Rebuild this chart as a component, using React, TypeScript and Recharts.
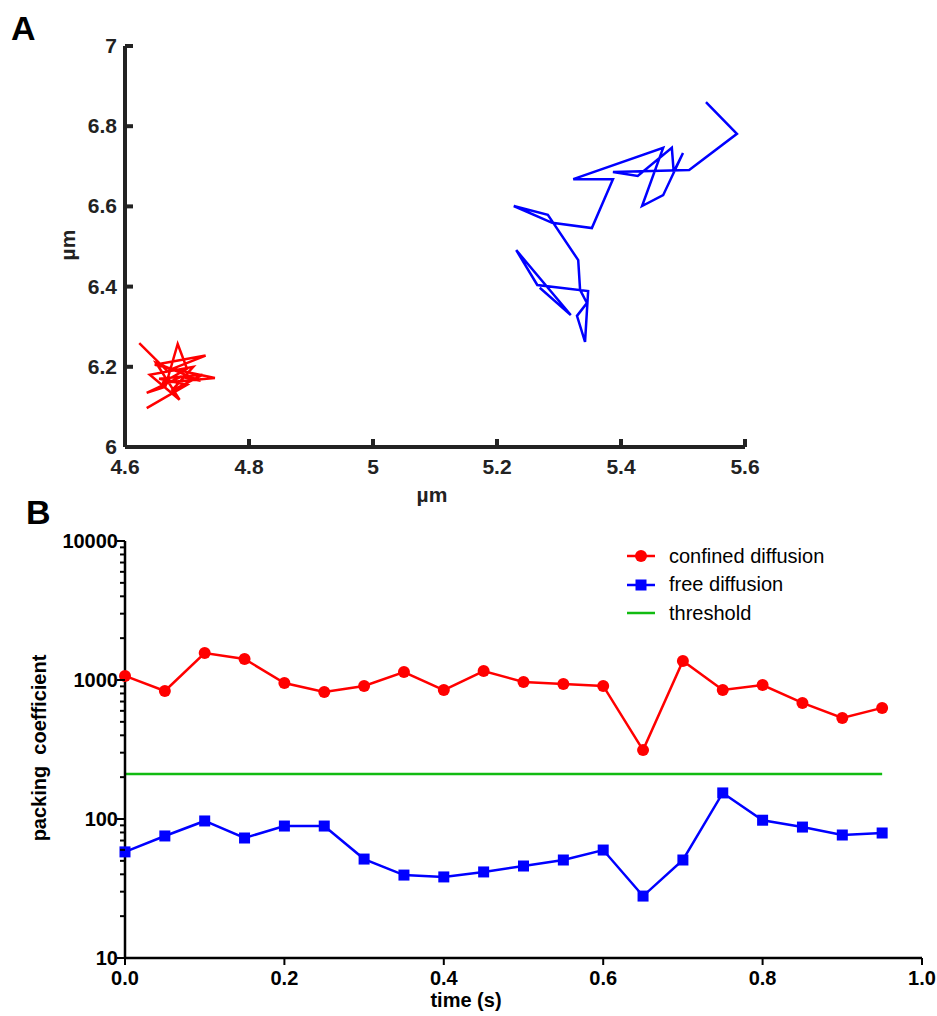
import { LineChart, Line, XAxis, YAxis } from 'recharts'

// panel A: single particle trajectories (µm)
const freeTrack = [
  { x: 5.537, y: 6.86 }, { x: 5.587, y: 6.781 }, { x: 5.51, y: 6.691 }, { x: 5.387, y: 6.686 },
  { x: 5.427, y: 6.676 }, { x: 5.482, y: 6.746 }, { x: 5.485, y: 6.686 }, { x: 5.5, y: 6.733 },
  { x: 5.468, y: 6.628 }, { x: 5.434, y: 6.601 }, { x: 5.468, y: 6.746 }, { x: 5.323, y: 6.668 },
  { x: 5.387, y: 6.668 }, { x: 5.353, y: 6.546 }, { x: 5.289, y: 6.559 }, { x: 5.227, y: 6.601 },
  { x: 5.282, y: 6.579 }, { x: 5.331, y: 6.466 }, { x: 5.334, y: 6.392 }, { x: 5.345, y: 6.359 },
  { x: 5.329, y: 6.327 }, { x: 5.342, y: 6.262 }, { x: 5.347, y: 6.389 }, { x: 5.265, y: 6.404 },
  { x: 5.231, y: 6.491 }, { x: 5.319, y: 6.329 }, { x: 5.269, y: 6.397 },
]
const confinedTrack = [
  { x: 4.623, y: 6.259 }, { x: 4.668, y: 6.19 }, { x: 4.73, y: 6.228 }, { x: 4.648, y: 6.205 },
  { x: 4.705, y: 6.185 }, { x: 4.745, y: 6.172 }, { x: 4.66, y: 6.16 }, { x: 4.7, y: 6.195 },
  { x: 4.685, y: 6.257 }, { x: 4.665, y: 6.15 }, { x: 4.635, y: 6.135 }, { x: 4.69, y: 6.175 },
  { x: 4.722, y: 6.165 }, { x: 4.65, y: 6.21 }, { x: 4.688, y: 6.118 }, { x: 4.64, y: 6.18 },
  { x: 4.71, y: 6.2 }, { x: 4.675, y: 6.14 }, { x: 4.725, y: 6.18 }, { x: 4.655, y: 6.17 },
  { x: 4.7, y: 6.155 }, { x: 4.635, y: 6.097 },
]
const trackXTicks = [4.6, 4.8, 5, 5.2, 5.4, 5.6]
const trackYTicks = [6, 6.2, 6.4, 6.6, 6.8, 7]

// panel B: packing coefficient over time
const times = [0, 0.05, 0.1, 0.15, 0.2, 0.25, 0.3, 0.35, 0.4, 0.45, 0.5, 0.55, 0.6, 0.65, 0.7, 0.75, 0.8, 0.85, 0.9, 0.95]
const confined = [1070, 834, 1564, 1416, 951, 820, 906, 1141, 847, 1160, 967, 936, 906, 313, 1370, 847, 920, 684, 533, 630]
const free = [58, 75.5, 96.8, 73, 89, 89, 51.5, 39.5, 38.3, 41.6, 45.9, 50.7, 59.8, 27.9, 50.7, 154, 98, 87.5, 76.7, 79.3]
const threshold = 211
const timeTicks = [0, 0.2, 0.4, 0.6, 0.8, 1.0]
const majorLog = [10, 100, 1000, 10000]
const logTicks = [
  10, 20, 30, 40, 50, 60, 70, 80, 90,
  100, 200, 300, 400, 500, 600, 700, 800, 900,
  1000, 2000, 3000, 4000, 5000, 6000, 7000, 8000, 9000, 10000,
]

const rows = times.map((t, i) => ({ t, confined: confined[i], free: free[i], threshold }))

const FONT = '"Liberation Sans", Arial, sans-serif'
const DARK = '#222'

const fmtNum = (v: number) => String(Number(v.toFixed(1)))

function TrackXTick({ x, y, payload }: any) {
  return (
    <g>
      <line x1={x} x2={x} y1={y} y2={y - 8} stroke={DARK} strokeWidth={4} />
      <text x={x} y={y + 27} textAnchor="middle" fontSize={21} fontWeight="bold" fontFamily={FONT} fill={DARK}>
        {fmtNum(payload.value)}
      </text>
    </g>
  )
}

function TrackYTick({ x, y, payload }: any) {
  return (
    <g>
      <line x1={x} x2={x + 8} y1={y} y2={y} stroke={DARK} strokeWidth={4} />
      <text x={x - 8} y={y + 7} textAnchor="end" fontSize={21} fontWeight="bold" fontFamily={FONT} fill={DARK}>
        {fmtNum(payload.value)}
      </text>
    </g>
  )
}

function TimeTick({ x, y, payload }: any) {
  return (
    <g>
      <line x1={x} x2={x} y1={y} y2={y + 7} stroke="#000" strokeWidth={2} />
      <text x={x} y={y + 27} textAnchor="middle" fontSize={20} fontWeight="bold" fontFamily={FONT} fill="#000">
        {payload.value.toFixed(1)}
      </text>
    </g>
  )
}

function LogTick({ x, y, payload }: any) {
  const major = majorLog.includes(payload.value)
  return (
    <g>
      <line x1={x} x2={x - (major ? 8 : 5)} y1={y} y2={y} stroke="#000" strokeWidth={2} />
      {major && (
        <text x={x - 7} y={y + 7} textAnchor="end" fontSize={20} fontWeight="bold" fontFamily={FONT} fill="#000">
          {payload.value}
        </text>
      )}
    </g>
  )
}

const RedDot = (p: any) => <circle key={`r${p.index}`} cx={p.cx} cy={p.cy} r={6} fill="#ff0000" />
const BlueSquare = (p: any) => (
  <rect key={`b${p.index}`} x={p.cx - 5.5} y={p.cy - 5.5} width={11} height={11} fill="#0000ff" />
)

const legendItems = [
  { label: 'confined diffusion', color: '#ff0000', marker: 'circle' },
  { label: 'free diffusion', color: '#0000ff', marker: 'square' },
  { label: 'threshold', color: '#11bb11', marker: 'none' },
]

function LegendBox() {
  return (
    <div style={{ position: 'absolute', left: 627, top: 542, fontFamily: FONT, fontSize: 20, color: '#000' }}>
      {legendItems.map((it) => (
        <div key={it.label} style={{ display: 'flex', alignItems: 'center', height: 28.5, whiteSpace: 'nowrap' }}>
          <svg width={30} height={14} style={{ marginRight: 12 }}>
            <line x1={0} x2={28} y1={7} y2={7} stroke={it.color} strokeWidth={2.5} />
            {it.marker === 'circle' && <circle cx={14} cy={7} r={6} fill={it.color} />}
            {it.marker === 'square' && <rect x={8.5} y={1.5} width={11} height={11} fill={it.color} />}
          </svg>
          <span>{it.label}</span>
        </div>
      ))}
    </div>
  )
}

const abs = (left: number, top: number, extra: any = {}) => ({
  position: 'absolute' as const,
  left,
  top,
  fontFamily: FONT,
  fontWeight: 'bold' as const,
  whiteSpace: 'nowrap' as const,
  ...extra,
})

export default function App() {
  return (
    <div style={{ position: 'absolute', left: 0, top: 0, width: 937, height: 1016, background: '#fff' }}>
      <LineChart width={937} height={510} margin={{ top: 46, right: 192, left: 0, bottom: 0 }} style={{ position: 'absolute', left: 0, top: 0 }}>
        <XAxis
          type="number"
          dataKey="x"
          domain={[4.6, 5.6]}
          ticks={trackXTicks}
          height={63}
          tickSize={0}
          tickMargin={0}
          tickLine={false}
          tick={<TrackXTick />}
          axisLine={{ stroke: DARK, strokeWidth: 4 }}
          allowDuplicatedCategory={false}
        />
        <YAxis
          type="number"
          dataKey="y"
          domain={[6, 7]}
          ticks={trackYTicks}
          width={125}
          tickSize={0}
          tickMargin={0}
          tickLine={false}
          tick={<TrackYTick />}
          axisLine={{ stroke: DARK, strokeWidth: 4 }}
        />
        <Line data={confinedTrack} dataKey="y" stroke="#ff0000" strokeWidth={2.5} dot={false} isAnimationActive={false} />
        <Line data={freeTrack} dataKey="y" stroke="#0000ff" strokeWidth={2.5} dot={false} isAnimationActive={false} />
      </LineChart>

      <LineChart data={rows} width={937} height={506} margin={{ top: 31, right: 15, left: 0, bottom: 0 }} style={{ position: 'absolute', left: 0, top: 510 }}>
        <XAxis
          type="number"
          dataKey="t"
          domain={[0, 1]}
          ticks={timeTicks}
          height={58}
          tickSize={0}
          tickMargin={0}
          tickLine={false}
          tick={<TimeTick />}
          axisLine={{ stroke: '#000', strokeWidth: 2.5 }}
        />
        <YAxis
          type="number"
          scale="log"
          domain={[10, 10000]}
          ticks={logTicks}
          interval={0}
          width={125}
          tickSize={0}
          tickMargin={0}
          tickLine={false}
          tick={<LogTick />}
          axisLine={{ stroke: '#000', strokeWidth: 2.5 }}
          allowDataOverflow
        />
        <Line dataKey="threshold" stroke="#11bb11" strokeWidth={2.5} dot={false} isAnimationActive={false} />
        <Line dataKey="confined" stroke="#ff0000" strokeWidth={2.5} dot={<RedDot />} isAnimationActive={false} />
        <Line dataKey="free" stroke="#0000ff" strokeWidth={2.5} dot={<BlueSquare />} isAnimationActive={false} />
      </LineChart>

      <LegendBox />

      <div style={abs(11, 9, { fontSize: 34 })}>A</div>
      <div style={abs(26, 493, { fontSize: 34 })}>B</div>
      <div style={abs(68, 245, { fontSize: 21, transform: 'translate(-50%, -50%) rotate(-90deg)', color: DARK })}>µm</div>
      <div style={abs(432, 495, { fontSize: 21, transform: 'translate(-50%, -50%)', color: DARK })}>µm</div>
      <div style={abs(39, 748, { fontSize: 20, transform: 'translate(-50%, -50%) rotate(-90deg)', whiteSpace: 'pre' })}>
        packing  coefficient
      </div>
      <div style={abs(466, 1000, { fontSize: 20, transform: 'translate(-50%, -50%)' })}>time (s)</div>
    </div>
  )
}
